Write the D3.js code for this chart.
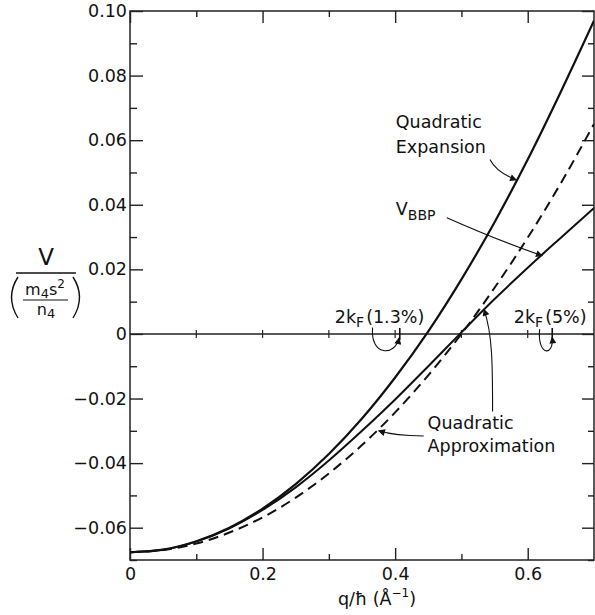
<!DOCTYPE html>
<html>
<head>
<meta charset="utf-8">
<script src="https://cdn.jsdelivr.net/npm/d3@7"></script>
<style>
  html, body { margin: 0; padding: 0; background: #fff; }
  svg text { font-family: "DejaVu Sans", sans-serif; fill: #111; }
</style>
</head>
<body>
<svg id="chart" width="595" height="615"></svg>
<script>
// ---------------- data ----------------
const qValues      = [0, 0.05, 0.10, 0.15, 0.20, 0.25, 0.30, 0.35, 0.40, 0.45, 0.50, 0.55, 0.60, 0.65, 0.70];
const vExpansion   = [-0.0676, -0.0668, -0.0642, -0.0600, -0.0541, -0.0465, -0.0372, -0.0262, -0.0135, 0.0008, 0.0169, 0.0346, 0.0540, 0.0750, 0.0970];
const vBBP         = [-0.0676, -0.0668, -0.0643, -0.0602, -0.0545, -0.0475, -0.0392, -0.0300, -0.0203, -0.0100, 0.0005, 0.0108, 0.0205, 0.0298, 0.0390];
const vApprox      = [-0.0676, -0.0669, -0.0649, -0.0615, -0.0568, -0.0507, -0.0432, -0.0344, -0.0243, -0.0128, 0.0000, 0.0143, 0.0298, 0.0467, 0.0650];

const xMajorTicks  = [0, 0.2, 0.4, 0.6];
const xTickLabels  = ["0", "0.2", "0.4", "0.6"];
const xMinorTicks  = [0.1, 0.3, 0.5];
const yMajorTicks  = [0.10, 0.08, 0.06, 0.04, 0.02, 0, -0.02, -0.04, -0.06];
const yTickLabels  = ["0.10", "0.08", "0.06", "0.04", "0.02", "0", "\u22120.02", "\u22120.04", "\u22120.06"];
const yMinorTicks  = [0.09, 0.07, 0.05, 0.03, 0.01, -0.01, -0.03, -0.05, -0.07];
const zeroLineTicks = [0.1, 0.2, 0.3, 0.4, 0.5, 0.6];
const twoKF        = [0.407, 0.637];   // 2kF (1.3%), 2kF (5%)

const xDomain = [0, 0.7];
const yDomain = [-0.07, 0.10];

// ---------------- layout ----------------
const svg = d3.select("#chart");
const L = 130, R = 594, T = 11, B = 560;
const x = d3.scaleLinear().domain(xDomain).range([L, R]);
const y = d3.scaleLinear().domain(yDomain).range([B, T]);
const FS = 17.5;

svg.append("defs").append("clipPath").attr("id", "clip")
  .append("rect").attr("x", L).attr("y", T).attr("width", R - L).attr("height", B - T);

const mk = svg.select("defs").append("marker")
  .attr("id", "arrow").attr("viewBox", "0 0 10 10")
  .attr("refX", 9).attr("refY", 5)
  .attr("markerWidth", 9).attr("markerHeight", 7)
  .attr("markerUnits", "userSpaceOnUse")
  .attr("orient", "auto");
mk.append("path").attr("d", "M0,0 L10,5 L0,10 Z").attr("fill", "#111");

// ---------------- axes ----------------
function styleAxis(g) {
  g.select(".domain").remove();
  g.selectAll(".tick line").attr("stroke", "#222").attr("stroke-width", 1.4);
  g.selectAll(".tick text").style("font-size", FS + "px").attr("fill", "#111");
}

// left
svg.append("g").attr("transform", `translate(${L},0)`)
  .call(d3.axisLeft(y).tickValues(yMajorTicks).tickSize(-13).tickPadding(3)
    .tickFormat((d, i) => yTickLabels[i]))
  .call(styleAxis);
svg.append("g").attr("transform", `translate(${L},0)`)
  .call(d3.axisLeft(y).tickValues(yMinorTicks).tickSize(-7).tickFormat(""))
  .call(styleAxis);
// right
svg.append("g").attr("transform", `translate(${R},0)`)
  .call(d3.axisRight(y).tickValues(yMajorTicks).tickSize(-12).tickFormat(""))
  .call(styleAxis);
svg.append("g").attr("transform", `translate(${R},0)`)
  .call(d3.axisRight(y).tickValues(yMinorTicks).tickSize(-6).tickFormat(""))
  .call(styleAxis);
// bottom
svg.append("g").attr("transform", `translate(0,${B})`)
  .call(d3.axisBottom(x).tickValues(xMajorTicks).tickSize(-12).tickPadding(8)
    .tickFormat((d, i) => xTickLabels[i]))
  .call(styleAxis);
svg.append("g").attr("transform", `translate(0,${B})`)
  .call(d3.axisBottom(x).tickValues(xMinorTicks).tickSize(-6).tickFormat(""))
  .call(styleAxis);
// top
svg.append("g").attr("transform", `translate(0,${T})`)
  .call(d3.axisTop(x).tickValues(xMajorTicks).tickSize(-12).tickFormat(""))
  .call(styleAxis);
svg.append("g").attr("transform", `translate(0,${T})`)
  .call(d3.axisTop(x).tickValues(xMinorTicks).tickSize(-6).tickFormat(""))
  .call(styleAxis);

// frame
svg.append("rect").attr("x", L).attr("y", T).attr("width", R - L).attr("height", B - T)
  .attr("fill", "none").attr("stroke", "#222").attr("stroke-width", 1.5);

// zero line
svg.append("line").attr("x1", L).attr("x2", R).attr("y1", y(0)).attr("y2", y(0))
  .attr("stroke", "#222").attr("stroke-width", 1.4);
svg.selectAll(".zt").data(zeroLineTicks).join("line")
  .attr("x1", d => x(d)).attr("x2", d => x(d))
  .attr("y1", y(0) - 4).attr("y2", y(0) + 4)
  .attr("stroke", "#222").attr("stroke-width", 1.2);
svg.selectAll(".kf").data(twoKF).join("line")
  .attr("x1", d => x(d)).attr("x2", d => x(d))
  .attr("y1", y(0) - 6).attr("y2", y(0) + 6)
  .attr("stroke", "#111").attr("stroke-width", 1.6);

// ---------------- curves ----------------
const line = d3.line().x(d => x(d[0])).y(d => y(d[1])).curve(d3.curveMonotoneX);
const plot = svg.append("g").attr("clip-path", "url(#clip)");
plot.append("path").datum(qValues.map((q, i) => [q, vExpansion[i]]))
  .attr("d", line).attr("fill", "none").attr("stroke", "#111").attr("stroke-width", 2.2);
plot.append("path").datum(qValues.map((q, i) => [q, vBBP[i]]))
  .attr("d", line).attr("fill", "none").attr("stroke", "#111").attr("stroke-width", 2.0);
plot.append("path").datum(qValues.map((q, i) => [q, vApprox[i]]))
  .attr("d", line).attr("fill", "none").attr("stroke", "#111").attr("stroke-width", 2.0)
  .attr("stroke-dasharray", "10,6");

// ---------------- annotations ----------------
function label(q, v, str, anchor) {
  return svg.append("text").attr("x", x(q)).attr("y", y(v))
    .attr("text-anchor", anchor || "start").attr("dominant-baseline", "middle")
    .style("font-size", FS + "px").text(str);
}
function arrow(pts) { // pts: [[q,v] start, [q,v] control, [q,v] end]
  const p = pts.map(d => [x(d[0]), y(d[1])]);
  svg.append("path")
    .attr("d", `M${p[0][0]},${p[0][1]} Q${p[1][0]},${p[1][1]} ${p[2][0]},${p[2][1]}`)
    .attr("fill", "none").attr("stroke", "#111").attr("stroke-width", 1.1)
    .attr("marker-end", "url(#arrow)");
}
function arrowC(pts) { // cubic
  const p = pts.map(d => [x(d[0]), y(d[1])]);
  svg.append("path")
    .attr("d", `M${p[0][0]},${p[0][1]} C${p[1][0]},${p[1][1]} ${p[2][0]},${p[2][1]} ${p[3][0]},${p[3][1]}`)
    .attr("fill", "none").attr("stroke", "#111").attr("stroke-width", 1.1)
    .attr("marker-end", "url(#arrow)");
}

// Quadratic Expansion
label(0.401, 0.0653, "Quadratic");
label(0.401, 0.0576, "Expansion");
arrow([[0.543, 0.0540], [0.553, 0.0500], [0.583, 0.0477]]);

// V_BBP
const vb = svg.append("text").attr("x", x(0.401)).attr("y", y(0.0384))
  .attr("dominant-baseline", "middle").style("font-size", FS + "px");
vb.append("tspan").text("V");
vb.append("tspan").attr("dy", 6).style("font-size", "14px").text("BBP");
arrow([[0.478, 0.0360], [0.555, 0.0290], [0.622, 0.0242]]);

// Quadratic Approximation
label(0.449, -0.0279, "Quadratic");
label(0.449, -0.0350, "Approximation");
arrow([[0.443, -0.0316], [0.400, -0.0316], [0.375, -0.0300]]);
arrowC([[0.547, -0.0240], [0.547, -0.0100], [0.547, 0.0000], [0.534, 0.0076]]);

// 2kF labels
function kfLabel(q, pct) {
  const t = svg.append("text").attr("x", x(q)).attr("y", y(0) - 11)
    .style("font-size", FS + "px");
  t.append("tspan").text("2k");
  t.append("tspan").attr("dy", 4).style("font-size", "14px").text("F");
  t.append("tspan").attr("dy", -4).attr("dx", 2).text("(" + pct + ")");
}
kfLabel(0.309, "1.3%");
kfLabel(0.579, "5%");
arrowC([[0.366, 0.0020], [0.362, -0.0070], [0.400, -0.0070], [0.406, -0.0012]]);
arrowC([[0.618, 0.0015], [0.614, -0.0070], [0.640, -0.0070], [0.637, -0.0010]]);

// ---------------- axis titles ----------------
const xt = svg.append("text").attr("x", 377).attr("y", 600)
  .attr("text-anchor", "middle").attr("dominant-baseline", "middle")
  .style("font-size", FS + "px");
xt.append("tspan").text("q/\u0127 (\u00C5");
xt.append("tspan").attr("dy", -7).style("font-size", "12px").text("\u22121");
xt.append("tspan").attr("dy", 7).text(")");

// y label: V / (m4 s^2 / n4)
const yl = svg.append("g");
yl.append("text").attr("x", 46).attr("y", 258).attr("text-anchor", "middle")
  .attr("dominant-baseline", "middle").style("font-size", "23px").text("V");
yl.append("line").attr("x1", 16).attr("x2", 76).attr("y1", 273).attr("y2", 273)
  .attr("stroke", "#111").attr("stroke-width", 1.4);
const num = yl.append("text").attr("x", 45).attr("y", 290).attr("text-anchor", "middle")
  .attr("dominant-baseline", "middle").style("font-size", "16px");
num.append("tspan").text("m");
num.append("tspan").attr("dy", 4).style("font-size", "13px").text("4");
num.append("tspan").attr("dy", -4).text("s");
num.append("tspan").attr("dy", -6).style("font-size", "12px").text("2");
yl.append("line").attr("x1", 23).attr("x2", 68).attr("y1", 300).attr("y2", 300)
  .attr("stroke", "#111").attr("stroke-width", 1.2);
const den = yl.append("text").attr("x", 46).attr("y", 310).attr("text-anchor", "middle")
  .attr("dominant-baseline", "middle").style("font-size", "16px");
den.append("tspan").text("n");
den.append("tspan").attr("dy", 4).style("font-size", "13px").text("4");
yl.append("path").attr("d", "M18,277 Q5,297 18,318").attr("fill", "none")
  .attr("stroke", "#111").attr("stroke-width", 1.4);
yl.append("path").attr("d", "M73,277 Q86,297 73,318").attr("fill", "none")
  .attr("stroke", "#111").attr("stroke-width", 1.4);
</script>
</body>
</html>
